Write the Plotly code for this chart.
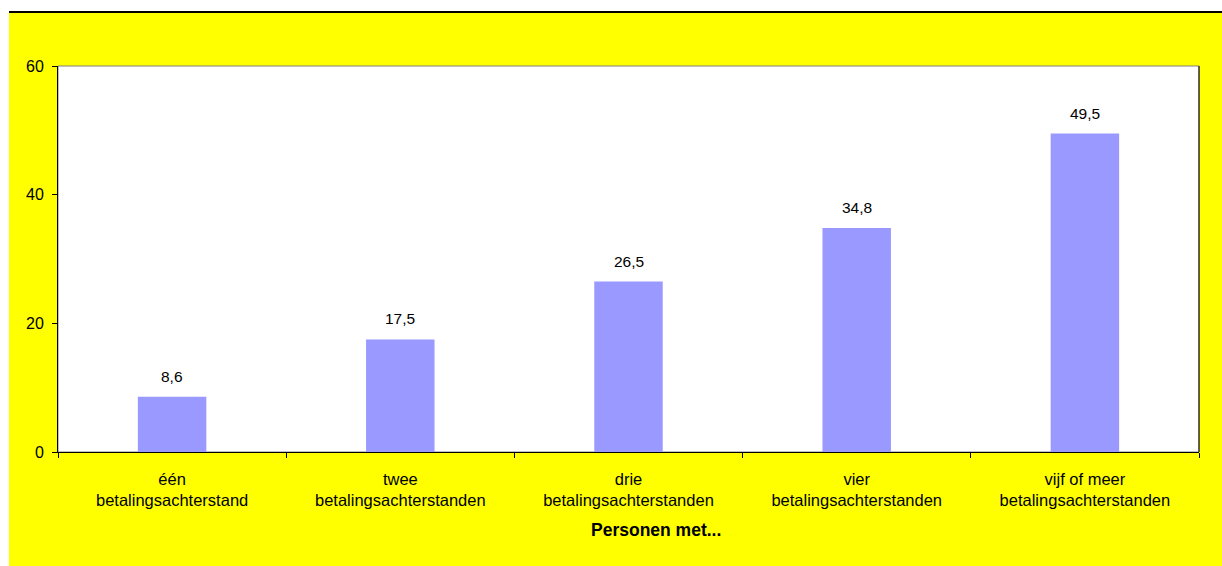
import plotly.graph_objects as go

# Share of people with payment arrears, by number of arrears
categories = [
    "één<br>betalingsachterstand",
    "twee<br>betalingsachterstanden",
    "drie<br>betalingsachterstanden",
    "vier<br>betalingsachterstanden",
    "vijf of meer<br>betalingsachterstanden",
]
values = [8.6, 17.5, 26.5, 34.8, 49.5]
value_labels = ["8,6", "17,5", "26,5", "34,8", "49,5"]
y_ticks = [0, 20, 40, 60]
x_title = "Personen met..."

W, H = 1222, 566
L, R, T, B = 58, 23, 66, 114
FONT = "Liberation Sans, Arial, sans-serif"


def px_x(p):
    return (p - L) / (W - L - R)


def px_y(p):
    return (H - B - p) / (H - T - B)


fig = go.Figure(
    go.Bar(
        x=categories,
        y=values,
        marker=dict(color="#9999FF", line=dict(width=0)),
        width=0.3,
        hoverinfo="skip",
    )
)

for c, v, t in zip(categories, values, value_labels):
    fig.add_annotation(
        x=c, y=v, text=t, showarrow=False, yanchor="bottom", yshift=10,
        font=dict(family=FONT, size=15.5, color="#000000"),
    )

# Category axis title
fig.add_annotation(
    xref="paper", yref="paper", x=px_x(656), y=px_y(530),
    xanchor="center", yanchor="middle", showarrow=False,
    text=f"<b>{x_title}</b>",
    font=dict(family=FONT, size=17.5, color="#000000"),
)

# Yellow chart area, white plot area and black rule along the top
fig.add_shape(type="rect", xref="paper", yref="paper", layer="below",
              x0=px_x(9), x1=px_x(W + 2), y0=px_y(H + 2), y1=px_y(13),
              fillcolor="#FFFF00", line=dict(width=0))
fig.add_shape(type="rect", xref="paper", yref="paper", layer="below",
              x0=0, x1=1, y0=0, y1=1,
              fillcolor="#FFFFFF", line=dict(color="#808080", width=1))
fig.add_shape(type="line", xref="paper", yref="paper",
              x0=px_x(9), x1=px_x(W + 2), y0=px_y(12), y1=px_y(12),
              line=dict(color="#000000", width=2))

fig.update_layout(
    width=W, height=H,
    margin=dict(l=L, r=R, t=T, b=B, autoexpand=False),
    paper_bgcolor="#FFFFFF",
    plot_bgcolor="rgba(0,0,0,0)",
    showlegend=False,
    font=dict(family=FONT, size=15, color="#000000"),
    xaxis=dict(
        type="category",
        showgrid=False,
        showline=True, linecolor="#000000", linewidth=1,
        ticks="outside", tickson="boundaries", ticklen=5, tickcolor="#000000",
        ticklabelstandoff=12,
        tickfont=dict(family=FONT, size=16.5),
        automargin=False,
    ),
    yaxis=dict(
        range=[0, 60],
        tickvals=y_ticks,
        ticktext=[str(v) for v in y_ticks],
        showgrid=False, zeroline=False,
        showline=True, linecolor="#000000", linewidth=1, mirror=False,
        ticks="outside", ticklen=5, tickcolor="#000000",
        ticklabelstandoff=5,
        tickfont=dict(family=FONT, size=16),
        automargin=False,
    ),
)

fig.add_shape(type="line", xref="paper", yref="paper",
              x0=1, x1=1, y0=0, y1=1, line=dict(color="#000000", width=1))

fig.write_html("out.html")
